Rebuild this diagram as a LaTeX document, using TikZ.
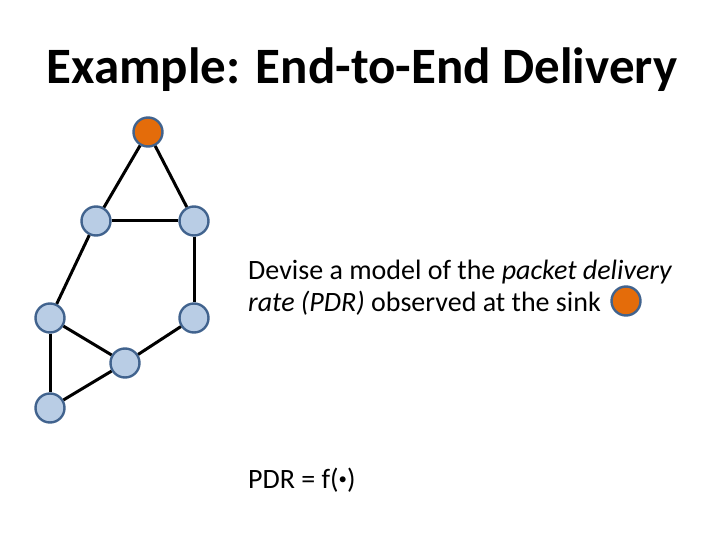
\documentclass[tikz,border=0pt]{standalone}
\usepackage{fontspec}
\setmainfont{Carlito}
\usetikzlibrary{positioning}
\definecolor{nodefill}{HTML}{B9CDE5}
\definecolor{nodeline}{HTML}{41638E}
\definecolor{sinkfill}{HTML}{E46C0A}

\begin{document}
\begin{tikzpicture}[
        x=1pt, y=-1pt,
        dot/.style={circle, draw=nodeline, fill=nodefill, line width=2.4pt, minimum size=29pt, inner sep=0pt},
        sinkdot/.style={dot, fill=sinkfill},
        link/.style={line width=3pt, black}
    ]
        \useasboundingbox (0,0) rectangle (720,540);
        % Title
        \node[font=\fontsize{51}{60}\selectfont\bfseries] (title) at (362,70) {Example: End-to-End Delivery};

        % Nodes
        \node[sinkdot] (sink) at (148,132) {};
        \node[dot] (ml) at (96,221) {};
        \node[dot] (mr) at (194,221) {};
        \node[dot] (lo) at (50,318) {};
        \node[dot] (ro) at (194,318) {};
        \node[dot] (ce) at (125,363) {};
        \node[dot] (bl) at (50,408) {};

        % Links
        \draw[link] (sink) -- (ml);
        \draw[link] (sink) -- (mr);
        \draw[link] (ml) -- (mr);
        \draw[link] (ml) -- (lo);
        \draw[link] (mr) -- (ro);
        \draw[link] (lo) -- (ce);
        \draw[link] (ro) -- (ce);
        \draw[link] (lo) -- (bl);
        \draw[link] (ce) -- (bl);

        % Text
        \node[font=\fontsize{28}{32}\selectfont, align=left, anchor=base west, inner sep=0pt] (task) at (248,311)
            {Devise a model of the \textit{packet delivery}\\\textit{rate (PDR)} observed at the sink};
        \node[sinkdot] (key) at (626,301) {};
        \node[font=\fontsize{28}{32}\selectfont, anchor=base west, inner sep=0pt] (pdr) at (248,488)
            {PDR = f(\raisebox{0.25ex}{\scalebox{0.6}{\textbullet}})};
    \end{tikzpicture}
\end{document}
